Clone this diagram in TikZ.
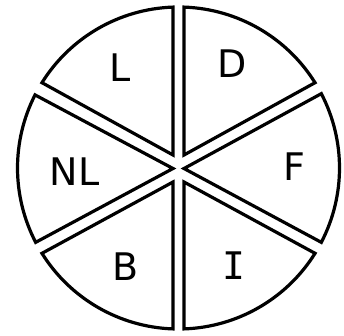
\documentclass[tikz,border=0pt]{standalone}
\usepackage{fontspec}
\setmainfont{DejaVu Sans}
\newfontfamily\monof{DejaVu Sans Mono}
\begin{document}
\begin{tikzpicture}[x=1pt,y=1pt,
  piece/.style={draw=black, line width=3.2pt, fill=white, line join=miter},
  lbl/.style={inner sep=0pt, font=\fontsize{38}{38}\selectfont}]
\fill[white] (0,0) rectangle (344,335);
\useasboundingbox (0,0) rectangle (344,335);
\begin{scope}[shift={(178.5,167)}]
  \def\R{161}
  % left half
  \draw[piece] (-5.5,13) -- (91.96:\R) arc[start angle=91.96, end angle=148, radius=\R] -- cycle;
  \draw[piece] (-5.5,-0.5) -- (153:\R) arc[start angle=153, end angle=207.5, radius=\R] -- cycle;
  \draw[piece] (-5.5,-14) -- (212:\R) arc[start angle=212, end angle=268.04, radius=\R] -- cycle;
  % right half
  \draw[piece] (5.5,13) -- (32:\R) arc[start angle=32, end angle=88.04, radius=\R] -- cycle;
  \draw[piece] (5.5,-0.5) -- (-27.5:\R) arc[start angle=-27.5, end angle=27.5, radius=\R] -- cycle;
  \draw[piece] (5.5,-14) -- (271.96:\R) arc[start angle=271.96, end angle=328, radius=\R] -- cycle;
\end{scope}
\node[lbl] (lL) at (120,267.5) {L};
\node[lbl] (lD) at (231.7,271.7) {D};
\node[lbl] (lNL) at (74.7,163) {NL};
\node[lbl] (lF) at (294,168.3) {F};
\node[lbl] (lB) at (125.7,68.7) {B};
\node[lbl] (lI) at (234,69) {\monof I};
\end{tikzpicture}
\end{document}
